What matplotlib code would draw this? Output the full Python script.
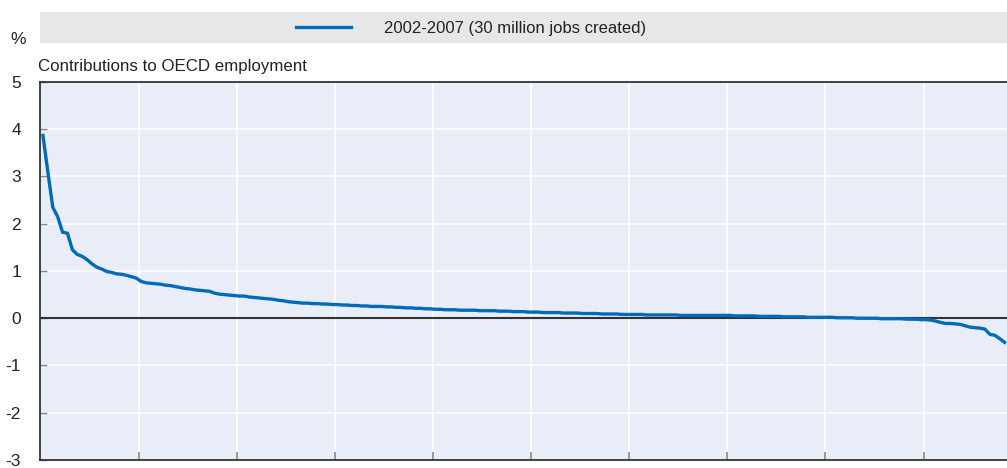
import matplotlib
matplotlib.use('Agg')
import matplotlib.pyplot as plt
from matplotlib.patches import Rectangle

plt.rcParams['font.family'] = ['Liberation Sans Narrow', 'Liberation Sans', 'DejaVu Sans']

# ── Data: contributions to OECD employment, sorted (%), 2002-2007 ──────
SERIES_LABEL = '2002-2007 (30 million jobs created)'
contrib = [
    3.87, 3.10, 2.35, 2.15, 1.82, 1.80, 1.45, 1.35, 1.31, 1.24,
    1.15, 1.08, 1.04, 0.99, 0.97, 0.94, 0.93, 0.91, 0.88, 0.85,
    0.78, 0.75, 0.74, 0.73, 0.72, 0.70, 0.69, 0.67, 0.65, 0.63,
    0.62, 0.60, 0.59, 0.58, 0.57, 0.53, 0.51, 0.50, 0.49, 0.48,
    0.47, 0.47, 0.45, 0.44, 0.43, 0.42, 0.41, 0.40, 0.38, 0.37,
    0.35, 0.34, 0.33, 0.32, 0.32, 0.31, 0.31, 0.30, 0.30, 0.29,
    0.29, 0.28, 0.28, 0.27, 0.27, 0.26, 0.26, 0.25, 0.25, 0.25,
    0.24, 0.24, 0.23, 0.23, 0.22, 0.22, 0.21, 0.21, 0.20, 0.20,
    0.19, 0.19, 0.18, 0.18, 0.18, 0.17, 0.17, 0.17, 0.17, 0.16,
    0.16, 0.16, 0.16, 0.15, 0.15, 0.15, 0.14, 0.14, 0.14, 0.13,
    0.13, 0.13, 0.12, 0.12, 0.12, 0.12, 0.11, 0.11, 0.11, 0.11,
    0.10, 0.10, 0.10, 0.10, 0.09, 0.09, 0.09, 0.09, 0.08, 0.08,
    0.08, 0.08, 0.08, 0.07, 0.07, 0.07, 0.07, 0.07, 0.07, 0.07,
    0.06, 0.06, 0.06, 0.06, 0.06, 0.06, 0.06, 0.06, 0.06, 0.06,
    0.06, 0.05, 0.05, 0.05, 0.05, 0.05, 0.04, 0.04, 0.04, 0.04,
    0.04, 0.03, 0.03, 0.03, 0.03, 0.03, 0.02, 0.02, 0.02, 0.02,
    0.02, 0.02, 0.01, 0.01, 0.01, 0.01, 0.00, 0.00, 0.00, 0.00,
    0.00, -0.01, -0.01, -0.01, -0.01, -0.01, -0.02, -0.02, -0.02, -0.03,
    -0.03, -0.04, -0.06, -0.09, -0.11, -0.11, -0.12, -0.13, -0.16, -0.19,
    -0.20, -0.21, -0.23, -0.34, -0.36, -0.43, -0.51,
]
y_ticks = [-3, -2, -1, 0, 1, 2, 3, 4, 5]
x_tick_step = 20

BLUE = '#006BB6'
BG = '#E9EDF7'
DARK = '#333333'

fig = plt.figure(figsize=(10.07, 4.68), dpi=100)
ax = fig.add_axes([0.0402, 0.0171, 0.9598, 0.8077])

x = list(range(len(contrib)))
ax.plot(x, contrib, color=BLUE, lw=2.4, zorder=4, solid_joinstyle='round')
ax.axhline(0, color=DARK, lw=1.5, zorder=3)

ax.set_facecolor(BG)
ax.set_xlim(-0.5, len(contrib) - 0.5)
ax.set_ylim(-3, 5)
ax.set_yticks(y_ticks)
ax.set_yticklabels([str(t) for t in y_ticks])
ax.set_xticks([k - 0.5 for k in range(x_tick_step, len(contrib), x_tick_step)])
ax.set_xticklabels([])
ax.grid(True, color='white', lw=1.2, zorder=1)
ax.set_axisbelow(True)
ax.tick_params(axis='y', direction='in', length=5, width=1, color='#888888',
               labelsize=12.5, pad=14, labelcolor='#222222')
ax.tick_params(axis='x', direction='in', length=6, width=1.2, color='#888888')
for sp in ax.spines.values():
    sp.set_color(DARK)
    sp.set_linewidth(1.3)
ax.spines['right'].set_visible(False)

# ── Legend band and titles ────────────────────────────────────────────
fig.add_artist(Rectangle((0.0402, 1 - 43 / 468), 0.9598, 31 / 468,
                         transform=fig.transFigure, facecolor='#E6E7E9',
                         edgecolor='none', zorder=0))
leg = fig.legend(ax.get_lines()[:1], [SERIES_LABEL], loc='center',
                 bbox_to_anchor=(0.468, 1 - 28 / 468), frameon=False,
                 fontsize=12, handlelength=3.3, handletextpad=2.0,
                 borderpad=0, borderaxespad=0)
for t in leg.get_texts():
    t.set_color('#222222')

fig.text(10 / 1007, 1 - 40 / 468, '%', fontsize=12.5, va='center',
         ha='left', color='#222222')
fig.text(38 / 1007, 1 - 66 / 468, 'Contributions to OECD employment',
         fontsize=12.2, va='center', ha='left', color='#222222')

fig.savefig('out.png', dpi=100)
